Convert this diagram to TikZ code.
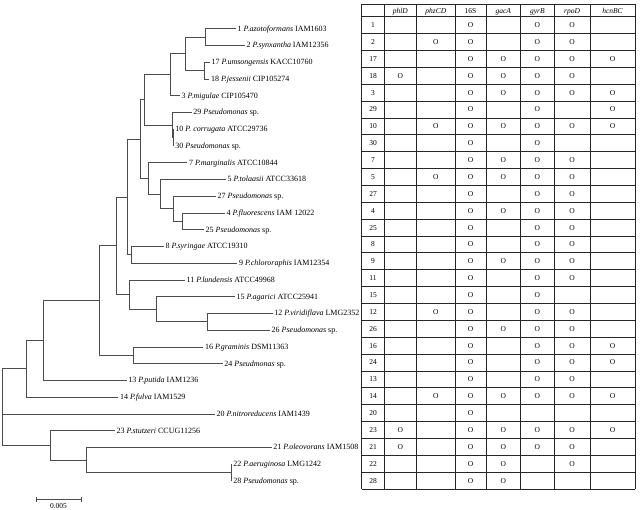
\documentclass[tikz,border=0pt]{standalone}
\usepackage{fontspec}
\setmainfont{Liberation Serif}
\definecolor{treegray}{gray}{0.3}
\definecolor{gridgray}{gray}{0.15}
\begin{document}
\begin{tikzpicture}[x=1pt,y=-1pt,
  br/.style={draw=treegray,line width=0.8pt},
  lab/.style={anchor=base west,inner sep=0pt,xshift=1.5pt,yshift=-2.4pt,font=\fontsize{8}{9}\selectfont},
  grid/.style={draw=gridgray,line width=0.8pt},
  cell/.style={anchor=center,inner sep=0pt,text height=5pt,text depth=0pt,font=\fontsize{7.5}{9}\selectfont},
  hcell/.style={cell,font=\fontsize{7.5}{9}\selectfont\itshape}]
\useasboundingbox (0,0) rectangle (640,510);
% leaves
\coordinate (l1) at (236,28.7);
\coordinate (l2) at (245,45.45);
\coordinate (l17) at (210,62.2);
\coordinate (l18) at (209.3,78.95);
\coordinate (l3) at (180,95.7);
\coordinate (l29) at (191.7,112.45);
\coordinate (l10) at (173.7,129.2);
\coordinate (l30) at (173.7,145.95);
\coordinate (l7) at (187.3,162.7);
\coordinate (l5) at (226,179.45);
\coordinate (l27) at (216,196.2);
\coordinate (l4) at (225,212.95);
\coordinate (l25) at (204,229.7);
\coordinate (l8) at (164,246.45);
\coordinate (l9) at (237.3,263.2);
\coordinate (l11) at (185,279.95);
\coordinate (l15) at (235,296.7);
\coordinate (l12) at (272.7,313.45);
\coordinate (l26) at (270,330.2);
\coordinate (l16) at (203.3,346.95);
\coordinate (l24) at (222.7,363.7);
\coordinate (l13) at (126.7,380.45);
\coordinate (l14) at (118.3,397.2);
\coordinate (l20) at (215,413.95);
\coordinate (l23) at (115,430.7);
\coordinate (l21) at (271.7,447.45);
\coordinate (l22) at (231.7,464.2);
\coordinate (l28) at (231.7,480.95);
% internal nodes
\coordinate (A) at (205.7,37.08);
\coordinate (C) at (204,70.58);
\coordinate (B) at (185.3,53.83);
\coordinate (D) at (170.7,74.76);
\coordinate (X) at (173.7,137.58);
\coordinate (F) at (172.7,125.0);
\coordinate (E) at (144,99.9);
\coordinate (L) at (182.3,221.3);
\coordinate (K) at (173.3,208.8);
\coordinate (J) at (160.7,194.1);
\coordinate (H) at (148.3,178.4);
\coordinate (G) at (140.7,139.15);
\coordinate (M) at (131.7,254.8);
\coordinate (I) at (127.3,197);
\coordinate (O) at (207.7,321.8);
\coordinate (N) at (156,309.3);
\coordinate (NN) at (129.3,294.6);
\coordinate (P) at (116.7,245.8);
\coordinate (R) at (133.3,355.3);
\coordinate (Q) at (99.3,300.6);
\coordinate (S) at (43.3,340.5);
\coordinate (T) at (26,368.9);
\coordinate (W) at (231.7,472.6);
\coordinate (V) at (86.7,460);
\coordinate (U) at (50,445.4);
\coordinate (Root) at (2.7,407.1);
% branches
\foreach \p/\c in {A/l1,A/l2,C/l17,C/l18,B/A,B/C,D/B,D/l3,X/l10,X/l30,F/l29,F/X,E/D,E/F,
  L/l4,L/l25,K/l27,K/L,J/l5,J/K,H/l7,H/J,G/E,G/H,M/l8,M/l9,I/G,I/M,O/l12,O/l26,N/l15,N/O,
  NN/l11,NN/N,P/I,P/NN,R/l16,R/l24,Q/P,Q/R,S/Q,S/l13,T/S,T/l14,W/l22,W/l28,V/l21,V/W,
  U/l23,U/V,Root/T,Root/U,Root/l20}
  \draw[br] (\p) |- (\c);
% leaf labels
\node[lab] (t1) at (l1) {1 \textit{P.azotoformans} IAM1603};
\node[lab] (t2) at (l2) {2 \textit{P.synxantha} IAM12356};
\node[lab] (t17) at (l17) {17 \textit{P.umsongensis} KACC10760};
\node[lab] (t18) at (l18) {18 \textit{P.jessenii} CIP105274};
\node[lab] (t3) at (l3) {3 \textit{P.migulae} CIP105470};
\node[lab] (t29) at (l29) {29 \textit{Pseudomonas} sp.};
\node[lab] (t10) at (l10) {10 \textit{P. corrugata} ATCC29736};
\node[lab] (t30) at (l30) {30 \textit{Pseudomonas} sp.};
\node[lab] (t7) at (l7) {7 \textit{P.marginalis} ATCC10844};
\node[lab] (t5) at (l5) {5 \textit{P.tolaasii} ATCC33618};
\node[lab] (t27) at (l27) {27 \textit{Pseudomonas} sp.};
\node[lab] (t4) at (l4) {4 \textit{P.fluorescens} IAM 12022};
\node[lab] (t25) at (l25) {25 \textit{Pseudomonas} sp.};
\node[lab] (t8) at (l8) {8 \textit{P.syringae} ATCC19310};
\node[lab] (t9) at (l9) {9 \textit{P.chlororaphis} IAM12354};
\node[lab] (t11) at (l11) {11 \textit{P.lundensis} ATCC49968};
\node[lab] (t15) at (l15) {15 \textit{P.agarici} ATCC25941};
\node[lab] (t12) at (l12) {12 \textit{P.viridiflava} LMG2352};
\node[lab] (t26) at (l26) {26 \textit{Pseudomonas} sp.};
\node[lab] (t16) at (l16) {16 \textit{P.graminis} DSM11363};
\node[lab] (t24) at (l24) {24 \textit{Pseudmonas} sp.};
\node[lab] (t13) at (l13) {13 \textit{P.putida} IAM1236};
\node[lab] (t14) at (l14) {14 \textit{P.fulva} IAM1529};
\node[lab] (t20) at (l20) {20 \textit{P.nitroreducens} IAM1439};
\node[lab] (t23) at (l23) {23 \textit{P.stutzeri} CCUG11256};
\node[lab] (t21) at (l21) {21 \textit{P.oleovorans} IAM1508};
\node[lab] (t22) at (l22) {22 \textit{P.aeruginosa} LMG1242};
\node[lab] (t28) at (l28) {28 \textit{Pseudomonas} sp.};
% scale bar
\coordinate (sb1) at (36,499);
\coordinate (sb2) at (81.7,499);
\draw[br] (sb1) -- (sb2);
\draw[br] ([yshift=2.5pt]sb1) -- ([yshift=-2.5pt]sb1);
\draw[br] ([yshift=2.5pt]sb2) -- ([yshift=-2.5pt]sb2);
\node[cell] (sbl) at (58.5,506) {0.005};
% table
\fill[white] (361.7,4) rectangle (635,489);
\foreach \k in {0,...,28}
  \draw[grid] (361.7,{16.7+\k*16.868}) -- (635,{16.7+\k*16.868});
\draw[grid] (361.7,4) -- (635,4);
\foreach \xx in {361.7,384,416.7,455,486,520.7,554,590,635}
  \draw[grid] (\xx,4) -- (\xx,489);
\node[hcell] (h1) at (400.35,10.8) {phlD};
\node[hcell] (h2) at (435.85,10.8) {phzCD};
\node[cell] (h3) at (470.5,10.8) {16S};
\node[hcell] (h4) at (503.35,10.8) {gacA};
\node[hcell] (h5) at (537.35,10.8) {gyrB};
\node[hcell] (h6) at (572,10.8) {rpoD};
\node[hcell] (h7) at (612.5,10.8) {hcnBC};
\foreach \lab/\cols [count=\r] in {1/{3,5,6},2/{2,3,5,6},17/{3,4,5,6,7},18/{1,3,4,5,6},
  3/{3,4,5,6,7},29/{3,5,7},10/{2,3,4,5,6,7},30/{3,5},7/{3,4,5,6},5/{2,3,4,5,6},
  27/{3,5,6},4/{3,4,5,6},25/{3,5,6},8/{3,5,6},9/{3,4,5,6},11/{3,5,6},15/{3,5},
  12/{2,3,5,6},26/{3,4,5,6},16/{3,5,6,7},24/{3,5,6,7},13/{3,5,6},14/{2,3,4,5,6,7},
  20/{3},23/{1,3,4,5,6,7},21/{1,3,4,5,6},22/{3,4,6},28/{3,4}} {
  \node[cell] (n\r) at (373,{16.7+(\r-0.5)*16.868}) {\lab};
  \foreach \c in \cols
    \node[cell] (o\r-\c) at (h\c |- n\r) {O};
}
\end{tikzpicture}
\end{document}
